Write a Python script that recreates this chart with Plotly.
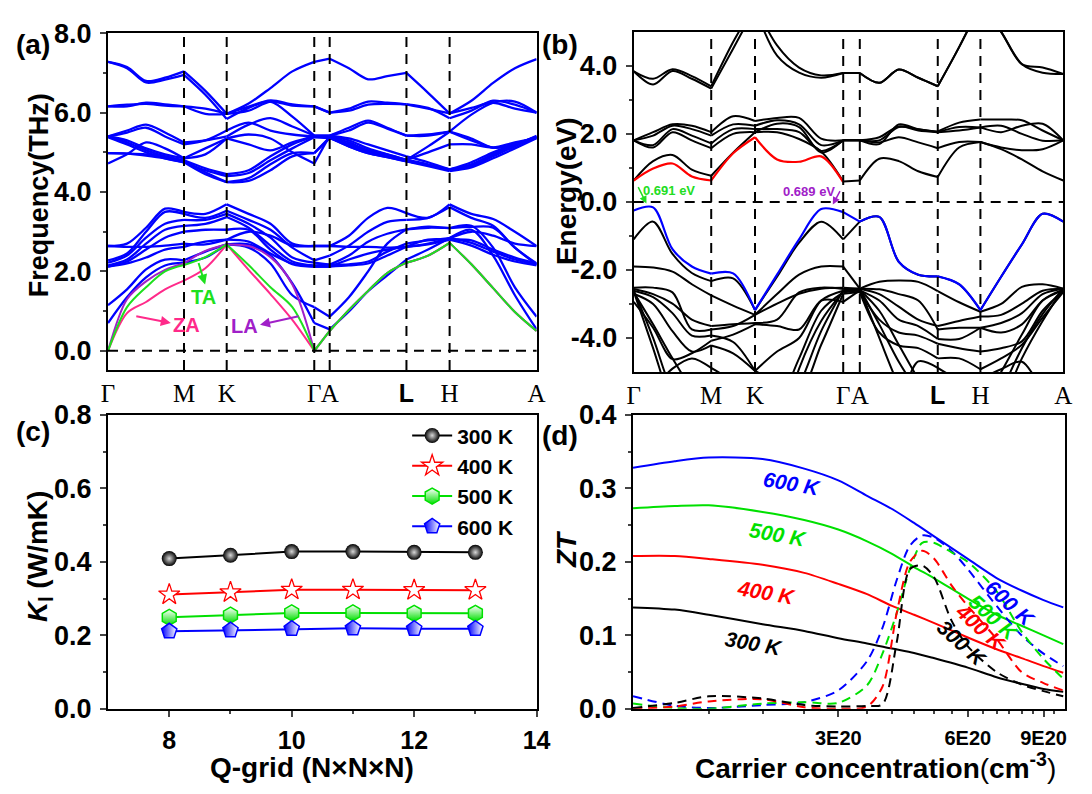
import plotly.graph_objects as go

W, H = 1092, 794

# ---------------- k-path sample positions ----------------
K_A = [0, 0.0443, 0.0887, 0.1330, 0.1773, 0.2271, 0.2769, 0.3280, 0.3790, 0.4301, 0.4812,
       0.5172, 0.5620, 0.6068, 0.6515, 0.6963, 0.7467, 0.7970, 0.8478, 0.8985, 0.9493, 1.0]
K_B = [0, 0.0451, 0.0902, 0.1353, 0.1804, 0.2314, 0.2824, 0.3337, 0.3850, 0.4364, 0.4877,
       0.5263, 0.5717, 0.6170, 0.6624, 0.7078, 0.7575, 0.8071, 0.8553, 0.9036, 0.9518, 1.0]
HS_IDX = [0, 4, 6, 10, 11, 15, 17, 21]
HS_LABELS = ["Γ", "M", "K", "Γ", "A", "<span style='font-family:Liberation Sans;font-weight:bold'>L</span>", "H", "A"]

# ---------------- (a) phonon bands (THz) ----------------
PH_OPT_HIGH = [
    [7.28,7.15,6.80,6.88,7.04,6.55,5.97,6.23,6.62,7.04,7.28, 7.36,7.12,6.84,6.92,7.00,6.50,5.98,6.30,6.75,7.12,7.35],
    [7.28,7.12,6.76,6.83,6.95,6.45,5.84,6.12,6.28,5.90,5.42, 5.42,5.62,5.80,5.62,5.42,5.45,5.52,5.95,6.25,6.28,6.00],
    [6.16,6.16,6.25,6.21,6.16,6.10,5.97,6.15,6.31,6.21,6.16, 6.00,6.10,6.28,6.25,6.21,6.12,5.86,6.05,6.30,6.20,6.00],
    [5.40,5.55,5.70,5.50,5.25,5.30,5.40,5.70,5.86,5.65,5.42, 5.42,5.35,5.20,5.05,4.90,4.75,4.57,4.75,5.00,5.20,5.36],
    [5.40,5.50,5.62,5.40,5.20,5.30,5.55,5.75,5.55,5.45,5.40, 5.40,5.30,5.10,4.95,4.81,4.70,4.55,4.65,4.90,5.15,5.38],
    [5.40,5.30,5.10,4.95,4.85,4.95,5.35,5.20,5.05,5.25,5.40, 5.40,5.25,5.05,4.95,4.81,5.15,5.52,5.35,5.12,5.20,5.40],
    [5.40,5.25,5.05,4.90,4.80,4.60,4.45,4.55,4.90,5.20,5.40, 5.38,5.20,5.02,4.90,4.78,4.68,4.57,4.70,4.95,5.20,5.40],
    [5.38,5.20,5.00,4.85,4.75,4.55,4.40,4.48,4.80,5.10,5.38, 5.36,5.15,4.98,4.88,4.77,4.65,4.53,4.62,4.85,5.10,5.36],
    [4.98,4.97,4.95,4.90,4.78,4.50,4.25,4.28,4.55,4.90,4.98, 5.38,5.15,4.98,4.88,4.78,4.68,4.57,4.68,4.95,5.20,5.38],
    [4.98,4.97,4.92,4.85,4.75,4.45,4.25,4.35,4.70,4.98,4.98, 5.36,5.20,5.05,4.92,4.81,5.00,5.20,5.20,5.12,5.25,5.36],
    [4.72,4.95,5.25,5.10,4.85,5.10,5.35,5.45,5.35,5.00,4.72, 5.42,5.55,5.75,5.60,5.42,5.42,5.52,5.30,5.12,5.20,5.42],
    [6.16,6.20,6.22,6.18,6.16,5.97,5.97,6.05,6.28,6.18,6.16, 6.00,6.05,6.20,6.22,6.21,6.10,5.98,6.12,6.25,6.10,6.00],
]
PH_OPT_LOW = [
    [2.64,2.70,3.10,3.58,3.50,3.45,3.69,3.45,3.20,2.70,2.64, 2.64,2.90,3.35,3.60,3.47,3.35,3.69,3.45,3.32,3.00,2.64],
    [2.28,2.45,3.00,3.50,3.45,3.35,3.53,3.30,3.05,2.60,2.28, 2.40,2.65,3.00,3.25,3.30,3.35,3.62,3.35,3.15,2.60,2.20],
    [2.22,2.40,2.85,3.20,3.30,3.30,3.45,3.20,2.85,2.35,2.22, 2.17,2.40,2.75,2.95,3.06,3.10,3.09,3.12,3.10,2.60,2.17],
    [2.15,2.30,2.70,3.05,3.15,3.20,3.37,3.10,2.65,2.25,2.15, 2.17,2.18,2.25,2.50,2.70,2.78,2.84,2.72,2.50,2.30,2.17],
    [2.12,2.25,2.55,2.85,3.00,3.05,3.05,3.05,2.55,2.18,2.12, 2.12,2.15,2.20,2.40,2.62,2.80,2.80,2.65,2.42,2.25,2.15],
    [2.64,2.62,2.62,2.65,2.70,2.68,2.80,3.00,2.90,2.65,2.64, 2.64,2.62,2.62,2.60,2.62,2.70,2.84,3.00,2.90,2.70,2.64],
    [2.12,2.20,2.35,2.55,2.62,2.75,2.80,2.75,2.45,2.20,2.12, 2.12,2.30,2.45,2.55,2.62,2.68,2.80,2.78,2.55,2.35,2.20],
    [1.15,1.55,2.05,2.30,2.28,2.50,2.68,2.60,2.20,1.40,1.10, 0.86,1.35,2.00,2.70,3.06,3.13,3.09,3.15,2.60,1.60,0.86],
    [0.70,1.35,1.85,2.15,2.22,2.35,2.68,2.68,2.40,1.70,0.70, 0.54,0.99,1.50,1.90,2.30,2.55,2.84,3.05,2.40,1.40,0.54],
]
PH_ZA = [0,0.95,1.23,1.55,1.77,2.08,2.68,2.04,1.43,0.78,0, 0.50,1.03,1.51,1.96,2.22,2.40,2.72,2.18,1.58,0.98,0.50]
PH_LA = [0,1.30,1.75,2.04,2.20,2.52,2.68,2.64,2.36,1.67,0, 0.50,1.03,1.51,1.96,2.22,2.40,2.72,2.18,1.58,0.98,0.50]
PH_TA = [0,1.10,1.60,2.00,2.16,2.36,2.68,2.16,1.60,1.10,0, 0.50,1.03,1.51,1.96,2.22,2.40,2.72,2.18,1.58,0.98,0.50]

# ---------------- (b) electronic bands (eV) ----------------
EL_BLACK = [
    [3.84,3.62,3.90,3.70,3.40,4.70,5.80,4.60,3.95,3.72,3.79, 3.79,3.50,3.89,3.65,3.40,4.55,5.80,5.00,4.05,3.95,3.76],
    [3.84,3.45,3.85,3.62,3.33,4.50,5.70,4.30,3.80,3.65,3.79, 3.79,3.50,3.89,3.65,3.40,4.55,5.80,5.00,4.05,3.80,3.76],
    [1.81,2.05,2.28,2.24,2.05,2.52,2.38,2.47,2.47,1.86,1.81, 1.81,1.70,2.28,2.14,2.07,2.33,2.42,2.42,2.40,2.10,1.81],
    [1.81,1.95,2.24,2.14,1.95,2.28,2.24,2.40,2.28,1.67,1.81, 1.81,1.81,2.20,2.14,2.05,2.20,2.19,2.05,2.24,2.30,1.81],
    [1.81,1.67,2.14,1.95,1.72,2.14,2.14,2.14,2.05,1.50,1.81, 1.81,1.90,2.22,2.10,2.05,2.10,2.19,2.24,2.00,1.80,1.81],
    [1.81,1.60,2.05,1.81,1.58,2.00,2.05,2.30,2.20,1.45,1.81, 1.81,1.75,1.90,1.75,1.58,1.76,1.76,1.60,1.52,1.55,1.81],
    [0.63,1.20,1.38,0.95,0.77,1.45,2.05,2.05,1.85,1.48,0.60, 0.63,1.27,1.20,0.90,0.73,1.60,1.76,1.55,1.25,0.90,0.63],
    [-1.10,-0.58,-1.53,-2.09,-2.33,-2.25,-3.18,-2.20,-1.20,-0.58,-1.10, -0.58,-0.44,-1.76,-2.14,-2.19,-2.42,-3.18,-2.20,-1.25,-0.35,-0.58],
    [-1.90,-1.93,-2.05,-2.42,-2.75,-3.05,-3.32,-2.71,-2.14,-1.90,-1.90, -2.55,-2.35,-2.31,-2.35,-2.62,-2.95,-3.23,-3.00,-2.50,-2.42,-2.55],
    [-2.60,-4.00,-5.60,-6.50,-7.0,-7.0,-7.0,-6.50,-5.40,-3.80,-2.60, -2.55,-3.60,-4.70,-5.60,-6.50,-7.0,-7.0,-5.60,-4.30,-3.30,-2.55],
    [-2.63,-4.30,-6.00,-7.0,-7.0,-7.0,-7.0,-7.0,-4.90,-3.50,-2.63, -2.55,-4.00,-5.40,-6.50,-7.0,-7.0,-7.0,-6.00,-4.60,-3.50,-2.55],
    [-2.66,-3.60,-4.60,-5.50,-6.20,-6.50,-6.50,-6.00,-4.60,-3.20,-2.66, -2.58,-3.20,-4.20,-5.20,-6.00,-6.50,-6.00,-5.00,-3.90,-2.90,-2.58],
    [-2.56,-2.71,-2.99,-3.46,-3.65,-3.60,-3.56,-3.46,-2.66,-2.52,-2.56, -2.55,-2.71,-3.08,-3.46,-3.65,-3.50,-3.37,-3.32,-2.99,-2.61,-2.55],
    [-2.52,-2.52,-2.66,-3.75,-3.75,-3.65,-3.32,-2.99,-2.70,-2.55,-2.52, -2.55,-2.57,-2.71,-2.90,-3.75,-3.70,-3.70,-3.56,-3.27,-2.71,-2.55],
    [-2.94,-3.70,-4.62,-4.45,-4.08,-3.90,-3.60,-3.65,-3.75,-2.90,-2.94, -2.60,-2.90,-3.46,-3.65,-4.03,-4.03,-3.70,-3.84,-3.60,-2.90,-2.60],
    [-2.61,-2.80,-3.27,-3.93,-3.93,-4.12,-4.97,-4.40,-4.00,-2.90,-2.61, -2.62,-3.46,-3.84,-3.93,-4.17,-4.30,-4.40,-4.30,-4.10,-3.20,-2.62],
    [-2.70,-3.00,-3.80,-4.40,-4.22,-4.45,-4.97,-5.30,-5.60,-4.20,-2.70, -2.65,-3.84,-4.22,-4.30,-4.60,-4.60,-4.92,-4.60,-4.20,-3.40,-2.65],
    [-6.00,-5.50,-4.90,-4.60,-4.88,-5.30,-6.00,-6.00,-6.00,-6.00,-6.00, -6.00,-6.00,-5.80,-4.69,-4.88,-5.20,-5.20,-4.92,-4.70,-5.50,-6.00],
]
EL_CB_RED = [0.63,0.98,1.13,0.75,0.63,1.43,1.90,1.25,1.18,1.34,0.58]
EL_VB_BLUE = [-0.25,-0.16,-1.39,-1.90,-2.11,-2.10,-3.18,-2.14,-1.10,-0.21,-0.30,
              -0.58,-0.44,-1.76,-2.14,-2.19,-2.42,-3.18,-2.20,-1.25,-0.35,-0.58]

# ---------------- (c) lattice thermal conductivity ----------------
Q_GRID = [8, 9, 10, 11, 12, 13]
KL_300 = [0.409, 0.418, 0.428, 0.428, 0.426, 0.426]
KL_400 = [0.311, 0.317, 0.324, 0.324, 0.323, 0.323]
KL_500 = [0.249, 0.255, 0.261, 0.261, 0.260, 0.260]
KL_600 = [0.211, 0.214, 0.218, 0.219, 0.218, 0.218]

# ---------------- (d) ZT vs carrier concentration ----------------
N_SOLID = [1.0e20, 1.25e20, 1.5e20, 2e20, 2.5e20, 3e20, 3.5e20, 4e20, 4.5e20, 5e20, 6e20, 7e20, 8e20, 9e20, 1.0e21]
ZT_P600 = [0.328, 0.337, 0.342, 0.340, 0.327, 0.311, 0.290, 0.272, 0.253, 0.235, 0.204, 0.178, 0.161, 0.148, 0.138]
ZT_P500 = [0.273, 0.276, 0.277, 0.268, 0.257, 0.244, 0.228, 0.211, 0.193, 0.178, 0.150, 0.128, 0.113, 0.100, 0.088]
ZT_P400 = [0.208, 0.208, 0.204, 0.196, 0.185, 0.170, 0.156, 0.140, 0.128, 0.117, 0.097, 0.081, 0.069, 0.058, 0.049]
ZT_P300 = [0.138, 0.135, 0.128, 0.115, 0.106, 0.096, 0.089, 0.082, 0.076, 0.069, 0.056, 0.043, 0.034, 0.027, 0.023]
N_DASH = [1.0e20, 1.25e20, 1.5e20, 2e20, 2.5e20, 3e20, 3.5e20, 3.8e20, 4.1e20, 4.4e20, 4.7e20, 5e20, 5.5e20, 6e20, 7e20, 8e20, 9e20, 1.0e21]
ZT_N600 = [0.017, 0.004, 0.001, 0.005, 0.009, 0.025, 0.065, 0.110, 0.175, 0.222, 0.236, 0.233, 0.215, 0.190, 0.140, 0.100, 0.075, 0.058]
ZT_N500 = [0.007, 0.001, 0.000, 0.007, 0.009, 0.008, 0.032, 0.075, 0.130, 0.190, 0.226, 0.226, 0.213, 0.200, 0.160, 0.105, 0.068, 0.041]
ZT_N400 = [0.000, 0.003, 0.010, 0.013, 0.002, 0.000, 0.003, 0.030, 0.130, 0.200, 0.215, 0.205, 0.168, 0.140, 0.095, 0.050, 0.035, 0.025]
ZT_N300 = [0.001, 0.008, 0.017, 0.014, 0.005, 0.003, 0.004, 0.006, 0.090, 0.190, 0.195, 0.180, 0.120, 0.085, 0.050, 0.033, 0.024, 0.017]

FONT = "Liberation Sans"
SERIF = "Liberation Serif"
BLUE, RED, GREEN, BLACK = "#0000FF", "#FF0000", "#00E000", "#000000"
ZA_C, TA_C, LA_C = "#FF2A8A", "#1EE01E", "#A020C8"


def seg_xy(k, vals):
    xs, ys = [], []
    for a, b in zip(HS_IDX[:-1], HS_IDX[1:]):
        if b >= len(vals):
            break
        xs += list(k[a:b + 1]) + [None]
        ys += list(vals[a:b + 1]) + [None]
    return xs, ys


fig = go.Figure()


def band(k, vals, color, width, xa, ya):
    xs, ys = seg_xy(k, vals)
    fig.add_trace(go.Scatter(x=xs, y=ys, mode="lines", xaxis=xa, yaxis=ya,
                             line=dict(color=color, width=width, shape="spline", smoothing=0.9),
                             showlegend=False, hoverinfo="skip"))


# (a)
for b in PH_OPT_HIGH + PH_OPT_LOW:
    band(K_A, b, BLUE, 2.3, "x", "y")
band(K_A, PH_ZA, ZA_C, 2.0, "x", "y")
band(K_A, PH_LA, LA_C, 2.0, "x", "y")
band(K_A, PH_TA, TA_C, 2.0, "x", "y")

# (b)
for b in EL_BLACK:
    band(K_B, b, BLACK, 2.0, "x2", "y2")
band(K_B, EL_CB_RED, RED, 2.2, "x2", "y2")
band(K_B, EL_VB_BLUE, BLUE, 2.2, "x2", "y2")

# (c)
fig.add_trace(go.Scatter(x=Q_GRID, y=KL_300, mode="lines+markers", name="300 K", xaxis="x3", yaxis="y3",
                         line=dict(color=BLACK, width=2),
                         marker=dict(symbol="circle", size=15, color=BLACK,
                                     gradient=dict(type="radial", color="#d8d8d8"), line=dict(width=0))))
fig.add_trace(go.Scatter(x=Q_GRID, y=KL_400, mode="lines+markers", name="400 K", xaxis="x3", yaxis="y3",
                         line=dict(color=RED, width=2),
                         marker=dict(symbol="star", size=16, color="white", line=dict(color=RED, width=1.3))))
fig.add_trace(go.Scatter(x=Q_GRID, y=KL_500, mode="lines+markers", name="500 K", xaxis="x3", yaxis="y3",
                         line=dict(color=GREEN, width=2),
                         marker=dict(symbol="hexagon", size=16, color="white",
                                     gradient=dict(type="vertical", color=GREEN), line=dict(color=GREEN, width=1.5))))
fig.add_trace(go.Scatter(x=Q_GRID, y=KL_600, mode="lines+markers", name="600 K", xaxis="x3", yaxis="y3",
                         line=dict(color=BLUE, width=2),
                         marker=dict(symbol="pentagon", size=16, color=BLUE,
                                     gradient=dict(type="horizontal", color="white"), line=dict(color=BLUE, width=1.5))))

# (d)
for ys, c in [(ZT_P600, BLUE), (ZT_P500, GREEN), (ZT_P400, RED), (ZT_P300, BLACK)]:
    fig.add_trace(go.Scatter(x=N_SOLID, y=ys, mode="lines", xaxis="x4", yaxis="y4", showlegend=False,
                             line=dict(color=c, width=2, shape="spline", smoothing=0.8), hoverinfo="skip"))
for ys, c in [(ZT_N600, BLUE), (ZT_N500, GREEN), (ZT_N400, RED), (ZT_N300, BLACK)]:
    fig.add_trace(go.Scatter(x=N_DASH, y=ys, mode="lines", xaxis="x4", yaxis="y4", showlegend=False,
                             line=dict(color=c, width=2, dash="9px,6px", shape="spline", smoothing=0.8),
                             hoverinfo="skip"))


def px_x(p):
    return p / W


def px_y(p):
    return 1 - p / H


tickfont = dict(family=FONT, size=27, color="black", weight="bold")
kfont = dict(family=SERIF, size=25, color="black", style="normal", weight="normal")
common = dict(showline=True, linewidth=2, linecolor="black", mirror=True, showgrid=False, zeroline=False)

fig.update_layout(
    width=W, height=H, margin=dict(l=0, r=0, t=0, b=0),
    paper_bgcolor="white", plot_bgcolor="white",
    xaxis=dict(domain=[px_x(103), px_x(540)], range=[0, 1], tickvals=[K_A[i] for i in HS_IDX],
               ticktext=HS_LABELS, ticks="", tickfont=kfont, tickangle=0,
               ticklabelstandoff=0, anchor="y", **common),
    yaxis=dict(domain=[px_y(369), px_y(19)], range=[-0.485, 8.0], tickvals=[0, 2, 4, 6, 8],
               ticktext=["0.0", "2.0", "4.0", "6.0", "8.0"], ticks="outside", ticklen=6, tickwidth=2,
               minor=dict(tickvals=[1, 3, 5, 7], ticks="outside", ticklen=3, tickwidth=2),
               tickfont=tickfont, ticklabelstandoff=3, anchor="x", **common),
    xaxis2=dict(domain=[px_x(639), px_x(1077)], range=[0, 1], tickvals=[K_B[i] for i in HS_IDX],
                ticktext=HS_LABELS, ticks="", tickfont=kfont, tickangle=0,
                ticklabelstandoff=0, anchor="y2", **common),
    yaxis2=dict(domain=[px_y(371), px_y(17.5)], range=[-5, 5], tickvals=[-4, -2, 0, 2, 4],
                ticktext=["-4.0", "-2.0", "0.0", "2.0", "4.0"], ticks="outside", ticklen=6, tickwidth=2,
                minor=dict(tickvals=[-3, -1, 1, 3], ticks="outside", ticklen=3, tickwidth=2),
                tickfont=tickfont, ticklabelstandoff=3, anchor="x2", **common),
    xaxis3=dict(domain=[px_x(103), px_x(540)], range=[7, 14], tickvals=[8, 10, 12, 14],
                ticktext=["8", "10", "12", "14"], ticks="outside", ticklen=6, tickwidth=2, tickangle=0,
                minor=dict(tickvals=[9, 11, 13], ticks="outside", ticklen=3, tickwidth=2),
                tickfont=dict(family=FONT, size=25, color="black", weight="bold"),
                ticklabelstandoff=2, anchor="y3", **common),
    yaxis3=dict(domain=[px_y(721), px_y(415.7)], range=[0, 0.8], tickvals=[0, 0.2, 0.4, 0.6, 0.8],
                ticktext=["0.0", "0.2", "0.4", "0.6", "0.8"], ticks="outside", ticklen=6, tickwidth=2,
                minor=dict(tickvals=[0.1, 0.3, 0.5, 0.7], ticks="outside", ticklen=3, tickwidth=2),
                tickfont=tickfont, ticklabelstandoff=3, anchor="x3", **common),
    xaxis4=dict(domain=[px_x(638.3), px_x(1078.7)], type="log", range=[20, 21.004],
                tickvals=[3e20, 6e20, 9e20], ticktext=["3E20", "6E20", "9E20"], ticks="outside",
                ticklen=6, tickwidth=2, tickangle=0,
                minor=dict(tickvals=[1.5e20, 2e20, 2.5e20, 3.5e20, 4e20, 4.5e20, 5e20, 5.5e20, 6.5e20,
                                     7e20, 7.5e20, 8e20, 8.5e20, 9.5e20],
                           ticks="outside", ticklen=3, tickwidth=1.5),
                tickfont=dict(family=FONT, size=20, color="black", weight="bold"),
                ticklabelstandoff=4, anchor="y4", **common),
    yaxis4=dict(domain=[px_y(721), px_y(415.7)], range=[0, 0.4], tickvals=[0, 0.1, 0.2, 0.3, 0.4],
                ticktext=["0.0", "0.1", "0.2", "0.3", "0.4"], ticks="outside", ticklen=6, tickwidth=2,
                minor=dict(tickvals=[0.05, 0.15, 0.25, 0.35], ticks="outside", ticklen=3, tickwidth=2),
                tickfont=tickfont, ticklabelstandoff=3, anchor="x4", **common),
    legend=dict(x=px_x(408), y=px_y(416), xanchor="left", yanchor="top", bgcolor="rgba(0,0,0,0)",
                font=dict(family=FONT, size=21, color="black", weight="bold"), tracegroupgap=0,
                itemwidth=40),
)

# dashed reference lines
dash = "10px,7px"
shapes = []
for xa, ya, kk in [("x", "y", K_A), ("x2", "y2", K_B)]:
    for i in HS_IDX[1:-1]:
        shapes.append(dict(type="line", xref=xa, yref=ya + " domain", x0=kk[i], x1=kk[i], y0=0, y1=1,
                           line=dict(color="black", width=2, dash=dash)))
    shapes.append(dict(type="line", xref=xa + " domain", yref=ya, x0=0, x1=1, y0=0, y1=0,
                       line=dict(color="black", width=2, dash=dash)))
fig.update_layout(shapes=shapes)

ann = []


def text(x, y, s, size=22, color="black", angle=0, family=FONT, **kw):
    ann.append(dict(x=px_x(x), y=px_y(y), xref="paper", yref="paper", text=s, showarrow=False,
                    font=dict(family=family, size=size, color=color), textangle=angle,
                    xanchor="center", yanchor="middle", **kw))


# panel letters
text(26, 31, "<b>(a)</b>", 28)
text(564, 31, "<b>(b)</b>", 28)
text(26, 433, "<b>(c)</b>", 28)
text(564, 437, "<b>(d)</b>", 28)
# axis titles
text(33, 187, "<b>Frequency(THz)</b>", 27, angle=-90)
text(570, 183, "<b>Energy(eV)</b>", 28, angle=-90)
text(33, 563, "<b><i>K</i><sub>l</sub> (W/mK)</b>", 28, angle=-90)
text(570, 555, "<b><i>ZT</i></b>", 28, angle=-90)
text(311, 782, "<b>Q-grid (N×N×N)</b>", 28)
text(886, 781, "<b>Carrier concentration</b>(<b>cm<sup>-3</sup></b>)", 28)
# acoustic branch labels
text(200, 293, "<b>TA</b>", 20, TA_C)
text(183, 322, "<b>ZA</b>", 20, ZA_C)
text(242, 323, "<b>LA</b>", 20, LA_C)
# band-gap labels
text(675, 182, "<b>0.691 eV</b>", 13, "#22DD22")
text(818, 183, "<b>0.689 eV</b>", 13, LA_C)
# ZT labels
text(800, 487, "<b><i>600 K</i></b>", 21, BLUE, angle=10)
text(786, 540, "<b><i>500 K</i></b>", 21, GREEN, angle=10)
text(774, 600, "<b><i>400 K</i></b>", 21, RED, angle=10)
text(762, 653, "<b><i>300 K</i></b>", 21, BLACK, angle=10)
text(1023, 612, "<b><i>600 K</i></b>", 21, BLUE, angle=42)
text(1006, 626, "<b><i>500 K</i></b>", 21, GREEN, angle=42)
text(993, 637, "<b><i>400 K</i></b>", 21, RED, angle=42)
text(974, 653, "<b><i>300 K</i></b>", 21, BLACK, angle=42)


def arrow(x0, y0, x1, y1, color, width=2):
    ann.append(dict(x=px_x(x1), y=px_y(y1), ax=x0 - x1, ay=y0 - y1, xref="paper", yref="paper",
                    axref="pixel", ayref="pixel", showarrow=True, arrowhead=2, arrowsize=1,
                    arrowwidth=width, arrowcolor=color, text=""))


arrow(195, 257, 202, 280, TA_C)
arrow(131, 313, 167, 320, ZA_C)
arrow(298, 313, 258, 322, LA_C)
arrow(643, 178, 652, 196, "#22DD22", 1.5)
arrow(850, 182, 842, 197, LA_C, 1.5)

fig.update_layout(annotations=ann)
fig.write_html("out.html")
